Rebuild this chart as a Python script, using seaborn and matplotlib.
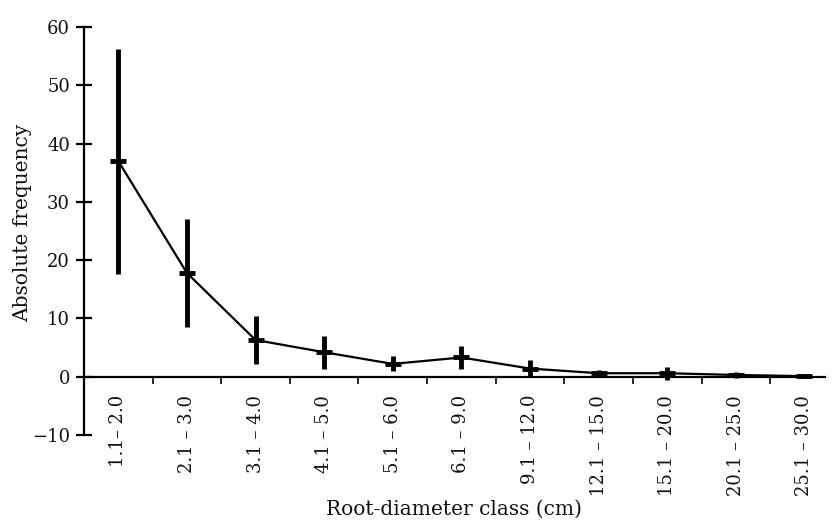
import matplotlib
matplotlib.use("Agg")
import matplotlib.pyplot as plt
import seaborn as sns
import numpy as np
import pandas as pd
from matplotlib.ticker import FixedLocator

categories = ["1.1– 2.0", "2.1 – 3.0", "3.1 – 4.0", "4.1 – 5.0", "5.1 – 6.0",
              "6.1 – 9.0", "9.1 – 12.0", "12.1 – 15.0", "15.1 – 20.0",
              "20.1 – 25.0", "25.1 – 30.0"]
means = [37.0, 17.8, 6.3, 4.2, 2.2, 3.3, 1.4, 0.6, 0.6, 0.3, 0.1]
errors = [19.3, 9.2, 4.1, 2.8, 1.3, 2.0, 1.5, 0.6, 1.1, 0.5, 0.3]
yticks = [-10, 0, 10, 20, 30, 40, 50, 60]

sns.set_theme(style="white")
plt.rcParams['font.family'] = ['DejaVu Serif']

fig = plt.figure(figsize=(8.32, 5.26), dpi=100)
ax = fig.add_axes([84/832, 1-435/526, (825-84)/832, (435-27)/526])

df = pd.DataFrame({"pos": np.arange(len(categories)), "mean": means, "err": errors})

ax.errorbar(df["pos"], df["mean"], yerr=df["err"], fmt="none", ecolor="black",
            elinewidth=3.5, capsize=0, zorder=2)
sns.lineplot(data=df, x="pos", y="mean", ax=ax, color="black", linewidth=1.6,
             marker="_", markersize=12, markeredgewidth=3.5, markeredgecolor="black",
             zorder=3)

ax.set_xlim(-0.5, 10.3)
ax.set_ylim(-10, 60)

for s in ["top", "right"]:
    ax.spines[s].set_visible(False)
ax.spines["left"].set_position(("data", -0.5))
ax.spines["bottom"].set_position(("data", 0))
for s in ["left", "bottom"]:
    ax.spines[s].set_color("black")
    ax.spines[s].set_linewidth(1.6)

ax.set_yticks(yticks)
ax.set_yticklabels([("\u2212" + str(abs(v))) if v < 0 else str(v) for v in yticks])
ax.tick_params(axis="y", direction="inout", length=12, width=1.6, color="black",
               labelsize=13, pad=4, left=True, labelcolor="#111111")

ax.set_xticks(np.arange(len(categories)))
ax.set_xticklabels(categories, rotation=90, va="top", ha="center")
ax.tick_params(axis="x", which="major", length=0, pad=13, labelsize=13,
               labelcolor="#111111")
ax.xaxis.set_minor_locator(FixedLocator(np.arange(0.5, 10, 1.0)))
ax.tick_params(axis="x", which="minor", direction="out", length=5, width=1.2,
               color="black", bottom=True)

ax.set_xlabel("Root-diameter class (cm)", fontsize=14.5, color="#111111")
ax.set_ylabel("Absolute frequency", fontsize=14.5, color="#111111")
ax.xaxis.set_label_coords(0.5, (435 - 500) / 408)
ax.yaxis.set_label_coords((32 - 84) / 741, 0.52)
ax.grid(False)

fig.savefig("out.png", dpi=100)
